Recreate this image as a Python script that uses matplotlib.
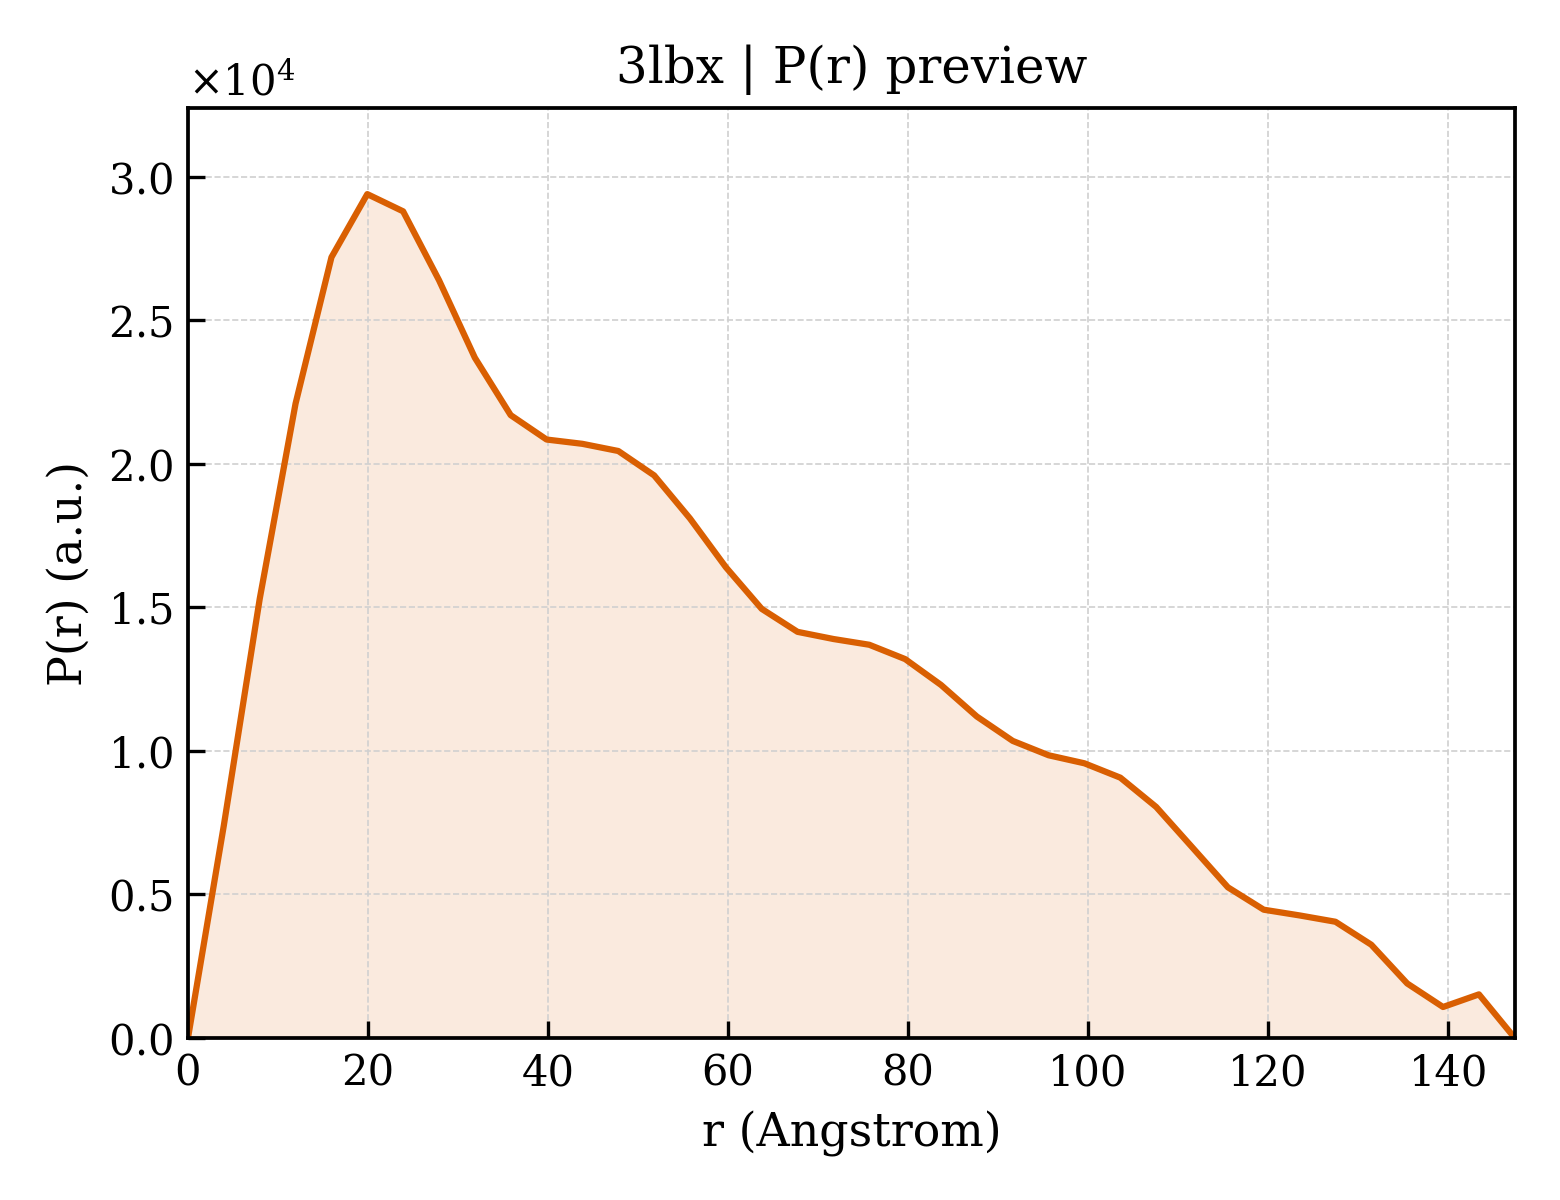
import numpy as np
import matplotlib
matplotlib.use("Agg")
import matplotlib.pyplot as plt

# --- DATA ---
r_angstrom = [0.0, 3.98, 7.97, 11.95, 15.94, 19.92, 23.9, 27.89, 31.87, 35.85,
              39.84, 43.82, 47.81, 51.79, 55.77, 59.76, 63.74, 67.72, 71.71, 75.69,
              79.68, 83.66, 87.64, 91.63, 95.61, 99.59, 103.58, 107.56, 111.55, 115.53,
              119.51, 123.5, 127.48, 131.46, 135.45, 139.43, 143.42, 147.4]
pr_values = [0.0, 0.74e4, 1.53e4, 2.21e4, 2.72e4, 2.94e4, 2.88e4, 2.64e4, 2.37e4, 2.17e4,
             2.085e4, 2.07e4, 2.045e4, 1.96e4, 1.81e4, 1.64e4, 1.495e4, 1.415e4, 1.39e4, 1.37e4,
             1.32e4, 1.23e4, 1.12e4, 1.035e4, 0.985e4, 0.957e4, 0.907e4, 0.805e4, 0.665e4, 0.525e4,
             0.447e4, 0.427e4, 0.405e4, 0.325e4, 0.19e4, 0.108e4, 0.152e4, 0.0]
title = "3lbx | P(r) preview"
COLOR = "#d95f02"

plt.rcParams["font.family"] = "DejaVu Serif"
plt.rcParams["mathtext.fontset"] = "dejavuserif"

fig = plt.figure(figsize=(5.2, 4.0), dpi=300)
ax = fig.add_axes([0.1205, 0.135, 0.8505, 0.775])

r = np.array(r_angstrom)
pr = np.array(pr_values)
ax.fill_between(r, pr, 0, color=COLOR, alpha=0.13, linewidth=0)
ax.plot(r, pr, color=COLOR, linewidth=1.5)

ax.set_xlim(0, r.max())
ax.set_ylim(0, 3.24e4)
ax.set_xticks([0, 20, 40, 60, 80, 100, 120, 140])
ax.set_yticks([0, 0.5e4, 1.0e4, 1.5e4, 2.0e4, 2.5e4, 3.0e4])
ax.ticklabel_format(axis="y", style="sci", scilimits=(0, 0), useMathText=True)

ax.grid(True, linestyle="--", linewidth=0.4, color="#d0d0d0")
ax.tick_params(direction="in", labelsize=10, length=4, width=0.8)
for s in ax.spines.values():
    s.set_linewidth(0.9)
ax.yaxis.get_offset_text().set_fontsize(10)

ax.set_xlabel("r (Angstrom)", fontsize=11)
ax.set_ylabel("P(r) (a.u.)", fontsize=11)
ax.set_title(title, fontsize=12)

fig.savefig("out.png", dpi=300)
